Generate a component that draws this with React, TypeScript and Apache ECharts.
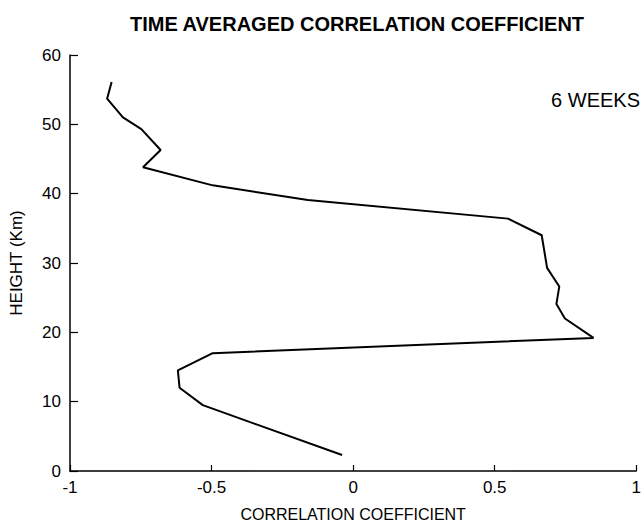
import React, { useEffect, useRef } from "react";
import * as echarts from "echarts";

// Correlation coefficient (x) vs height in km (y), top to bottom
const correlation = [-0.853, -0.869, -0.813, -0.748, -0.68, -0.742, -0.496, -0.16, 0.547, 0.666, 0.685, 0.728, 0.718, 0.748, 0.849, -0.496, -0.619, -0.613, -0.531, -0.039];
const heightKm = [56.1, 53.7, 51.0, 49.3, 46.3, 43.8, 41.2, 39.1, 36.4, 34.0, 29.3, 26.6, 24.1, 22.0, 19.2, 17.0, 14.5, 12.0, 9.5, 2.3];

const titleText = "TIME AVERAGED CORRELATION COEFFICIENT";
const xAxisName = "CORRELATION COEFFICIENT";
const yAxisName = "HEIGHT (Km)";
const annotation = "6 WEEKS";

const FONT = "'Liberation Sans', Arial, Helvetica, sans-serif";

export default function App() {
  const ref = useRef<HTMLDivElement>(null);
  useEffect(() => {
    if (!ref.current) return;
    const chart = echarts.init(ref.current, null, { renderer: "svg" });
    const data = correlation.map((c, i) => [c, heightKm[i]]);
    chart.setOption({
      animation: false,
      backgroundColor: "#ffffff",
      title: {
        text: titleText,
        left: 352,
        top: 9,
        textAlign: "center",
        textStyle: { fontFamily: FONT, fontSize: 20, fontWeight: "bold", color: "#000" },
      },
      grid: { left: 70, right: 5, top: 55, bottom: 53, containLabel: false },
      xAxis: {
        type: "value",
        min: -1,
        max: 1,
        interval: 0.5,
        name: xAxisName,
        nameLocation: "middle",
        nameGap: 35,
        nameTextStyle: { fontFamily: FONT, fontSize: 16, color: "#000" },
        axisLine: { show: true, onZero: false, lineStyle: { color: "#000", width: 1.5 } },
        axisTick: { show: true, inside: true, length: 6, lineStyle: { color: "#000", width: 1.2 } },
        axisLabel: { fontFamily: FONT, fontSize: 17, color: "#000", margin: 8 },
        splitLine: { show: false },
      },
      yAxis: {
        type: "value",
        min: 0,
        max: 60,
        interval: 10,
        name: yAxisName,
        nameLocation: "middle",
        nameGap: 45,
        nameTextStyle: { fontFamily: FONT, fontSize: 17, color: "#000" },
        axisLine: { show: true, onZero: false, lineStyle: { color: "#000", width: 1.5 } },
        axisTick: { show: true, inside: true, length: 8, lineStyle: { color: "#000", width: 1.2 } },
        axisLabel: { fontFamily: FONT, fontSize: 17, color: "#000", margin: 9 },
        splitLine: { show: false },
      },
      graphic: [
        {
          type: "text",
          right: 4,
          top: 90,
          style: { text: annotation, font: `20px ${FONT}`, fill: "#000" },
        },
      ],
      series: [
        {
          type: "line",
          data,
          symbol: "none",
          lineStyle: { color: "#000", width: 2 },
          smooth: false,
        },
      ],
    });
    return () => chart.dispose();
  }, []);
  return (
    <div
      ref={ref}
      style={{ position: "fixed", left: 0, top: 0, width: 644, height: 527, background: "#fff" }}
    />
  );
}
